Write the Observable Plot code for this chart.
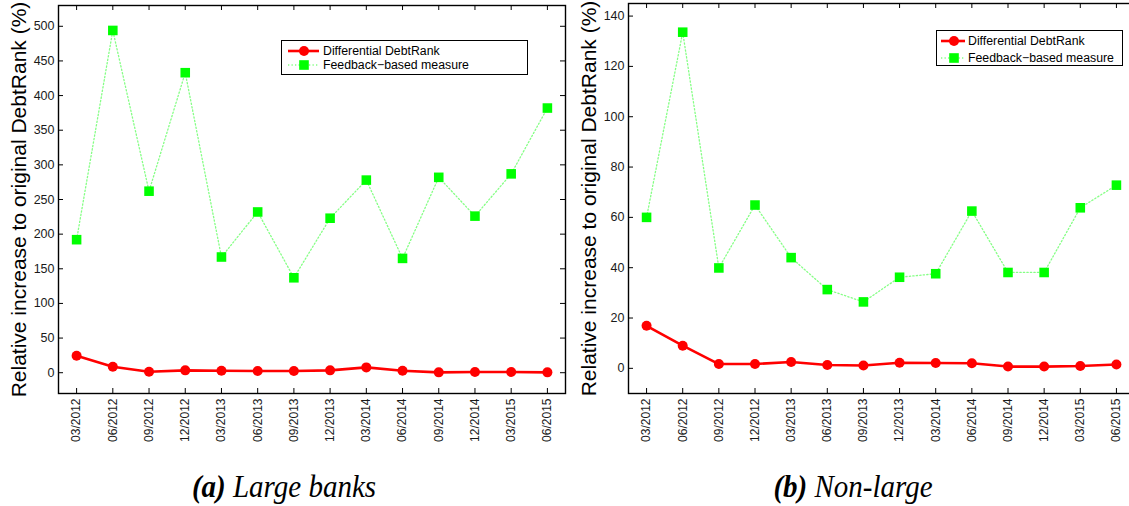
<!DOCTYPE html>
<html><head><meta charset="utf-8">
<script src="https://cdn.jsdelivr.net/npm/d3@7"></script>
<script src="https://cdn.jsdelivr.net/npm/@observablehq/plot@0.6"></script>
<style>
body{margin:0;background:#fff;}
#wrap{position:relative;width:1129px;height:506px;overflow:hidden;background:#fff;font-family:"Liberation Sans",Arial,sans-serif;}
.panel{position:absolute;top:0;}
.legend{position:absolute;box-sizing:border-box;background:#fff;border:1px solid #000;font-size:12.3px;color:#000;}
.legend .row{position:absolute;left:0;height:14px;white-space:nowrap;}
.legend svg{position:absolute;top:0;overflow:visible;}
.legend span{position:absolute;top:0;line-height:14px;}
.caption{position:absolute;top:467px;line-height:38px;font-family:"Liberation Serif","Times New Roman",serif;font-style:italic;font-size:29px;transform:translateX(-50%) scaleY(1.1);white-space:nowrap;color:#000;}
</style></head><body><div id="wrap"></div>
<script>
const quarters = ["03/2012","06/2012","09/2012","12/2012","03/2013","06/2013","09/2013","12/2013","03/2014","06/2014","09/2014","12/2014","03/2015","06/2015"];
const largeDifferential = [24.5, 8.7, 1.4, 3.4, 2.9, 2.4, 2.4, 3.4, 7.7, 2.9, 0.5, 1.0, 1.0, 0.5];
const largeFeedback = [192, 494, 262, 433, 167, 232, 137, 223, 278, 165, 282, 226, 287, 382];
const nonLargeDifferential = [16.9, 9.0, 1.7, 1.7, 2.5, 1.3, 1.1, 2.2, 2.1, 2.0, 0.7, 0.7, 0.9, 1.5];
const nonLargeFeedback = [60, 133.6, 39.9, 64.9, 44, 31.3, 26.4, 36.2, 37.6, 62.5, 38.1, 38.1, 63.8, 72.8];
const largeYTicks = [0, 50, 100, 150, 200, 250, 300, 350, 400, 450, 500];
const nonLargeYTicks = [0, 20, 40, 60, 80, 100, 120, 140];
const seriesNames = ["Differential DebtRank", "Feedback\u2212based measure"];
const yTitle = "Relative increase to original DebtRank (%)";
const captions = [["(a)", "Large banks"], ["(b)", "Non-large"]];

const wrap = document.getElementById("wrap");

function panel({diff, feed, yDomain, yTicks, width, marginRight, marginTop, left}) {
  const H = 460, mL = 58, mB = 67;
  const plotW = width - mL - marginRight, plotH = H - mB - marginTop;
  const xs = quarters.map((q, i) => i + 1);
  const data = quarters.map((q, i) => ({i: i + 1, q, diff: diff[i], feed: feed[i]}));
  const svg = Plot.plot({
    width, height: H, marginLeft: mL, marginRight, marginTop, marginBottom: mB,
    style: {fontFamily: "Liberation Sans, Arial, sans-serif", fontSize: "12px", color: "#000", background: "transparent"},
    x: {domain: [0.5, 14.5]},
    y: {domain: yDomain},
    marks: [
      Plot.axisY(yTicks, {anchor: "left", tickSize: 0, tickPadding: 4, label: null, fontSize: 12.5, fill: "#1a1a1a"}),
      Plot.axisX(xs, {anchor: "bottom", tickSize: 0, tickPadding: 5, tickRotate: -90, label: null, fontSize: 12, fill: "#1a1a1a", tickFormat: i => quarters[i - 1]}),
      Plot.tickY(yTicks, {insetRight: plotW - 5, stroke: "#000", strokeWidth: 1}),
      Plot.tickY(yTicks, {insetLeft: plotW - 5, stroke: "#000", strokeWidth: 1}),
      Plot.tickX(xs, {insetBottom: plotH - 5, stroke: "#000", strokeWidth: 1}),
      Plot.tickX(xs, {insetTop: plotH - 5, stroke: "#000", strokeWidth: 1}),
      Plot.line(data, {x: "i", y: "feed", stroke: "#33ff33", strokeWidth: 1.3, strokeDasharray: "1.3,2.2", strokeOpacity: 0.6}),
      Plot.dot(data, {x: "i", y: "feed", symbol: "square", r: 5.4, fill: "#00ff00", stroke: "none"}),
      Plot.line(data, {x: "i", y: "diff", stroke: "#ff0000", strokeWidth: 2.6}),
      Plot.dot(data, {x: "i", y: "diff", r: 5, fill: "#ff0000", stroke: "none"}),
      Plot.frame({stroke: "#000", strokeWidth: 1.4}),
      Plot.text([yTitle], {text: d => d, frameAnchor: "left", textAnchor: "middle", lineAnchor: "middle", dx: -39, rotate: -90, fontSize: 21, fill: "#000"})
    ]
  });
  svg.classList.add("panel");
  svg.style.left = left + "px";
  wrap.appendChild(svg);
}

panel({diff: largeDifferential, feed: largeFeedback, yDomain: [-30, 530], yTicks: largeYTicks, width: 570, marginRight: 5, marginTop: 5, left: 0});
panel({diff: nonLargeDifferential, feed: nonLargeFeedback, yDomain: [-10, 145], yTicks: nonLargeYTicks, width: 564, marginRight: 0, marginTop: 3, left: 570});

function legend({left, top, width, height, rows, sx1, sx2, mx, tx}) {
  const div = document.createElement("div");
  div.className = "legend";
  Object.assign(div.style, {left: left + "px", top: top + "px", width: width + "px", height: height + "px"});
  seriesNames.forEach((name, k) => {
    const row = document.createElement("div");
    row.className = "row";
    row.style.top = (rows[k] - 7) + "px";
    row.style.width = "100%";
    const sample = k === 0
      ? `<svg width="${sx2}" height="14" style="left:0"><line x1="${sx1}" x2="${sx2}" y1="7" y2="7" stroke="#ff0000" stroke-width="2.6"/><circle cx="${mx}" cy="7" r="5" fill="#ff0000"/></svg>`
      : `<svg width="${sx2}" height="14" style="left:0"><line x1="${sx1}" x2="${sx2}" y1="7" y2="7" stroke="#33ff33" stroke-width="1.3" stroke-dasharray="1.3,2.2" stroke-opacity="0.6"/><rect x="${mx - 4.8}" y="2.2" width="9.6" height="9.6" fill="#00ff00"/></svg>`;
    row.innerHTML = sample + `<span style="left:${tx}px">${name}</span>`;
    div.appendChild(row);
  });
  wrap.appendChild(div);
}
legend({left: 281, top: 40, width: 247, height: 35, rows: [10, 24], sx1: 6, sx2: 37, mx: 22, tx: 41});
legend({left: 936, top: 30, width: 187, height: 36, rows: [10, 27], sx1: 4, sx2: 28, mx: 17, tx: 31});

[284, 853].forEach((cx, k) => {
  const d = document.createElement("div");
  d.className = "caption";
  d.style.left = cx + "px";
  d.innerHTML = `<b>${captions[k][0]}</b> ${captions[k][1]}`;
  wrap.appendChild(d);
});
</script>
</body></html>
